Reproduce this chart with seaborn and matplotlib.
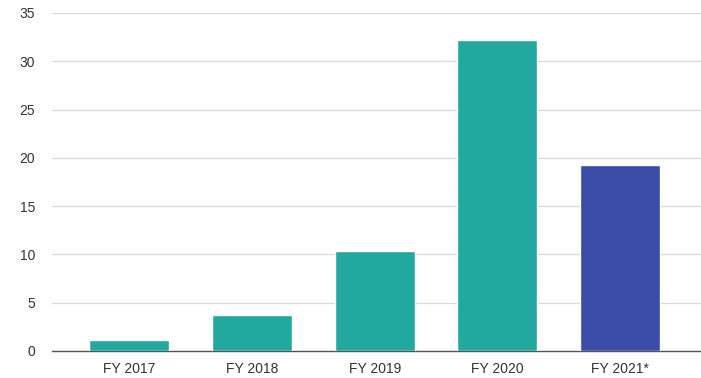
import pandas as pd
import seaborn as sns
import matplotlib.pyplot as plt

# Datos
anios = ['FY 2017', 'FY 2018', 'FY 2019', 'FY 2020', 'FY 2021*']
valores = [1.1, 3.7, 10.4, 32.2, 19.3]
colores = ['#22a89e', '#22a89e', '#22a89e', '#22a89e', '#3a4ca8']

df = pd.DataFrame({'anio': anios, 'valor': valores})

sns.set_theme(style='white')
plt.rcParams['font.family'] = ['Liberation Sans', 'DejaVu Sans']

fig = plt.figure(figsize=(7.01, 3.78), dpi=100)
ax = fig.add_axes([52 / 701, 27 / 378, 649 / 701, 338 / 378])

sns.barplot(data=df, x='anio', y='valor', hue='anio', palette=colores,
            legend=False, width=0.65, saturation=1, ax=ax, zorder=3)

ax.set_ylim(0, 35)
ax.set_xlim(-0.63, 4.66)
ax.set_yticks(range(0, 36, 5))
ax.yaxis.grid(True, color='#d9d9d9', linewidth=0.9, zorder=0)
ax.set_axisbelow(True)

for s in ['top', 'right', 'left']:
    ax.spines[s].set_visible(False)
ax.spines['bottom'].set_color('#555555')
ax.spines['bottom'].set_linewidth(1.0)

ax.tick_params(axis='both', length=0, labelsize=10, colors='#333333')
ax.tick_params(axis='y', pad=12)
ax.tick_params(axis='x', pad=8)
ax.set_xlabel('')
ax.set_ylabel('')

fig.savefig('out.png', dpi=100)
